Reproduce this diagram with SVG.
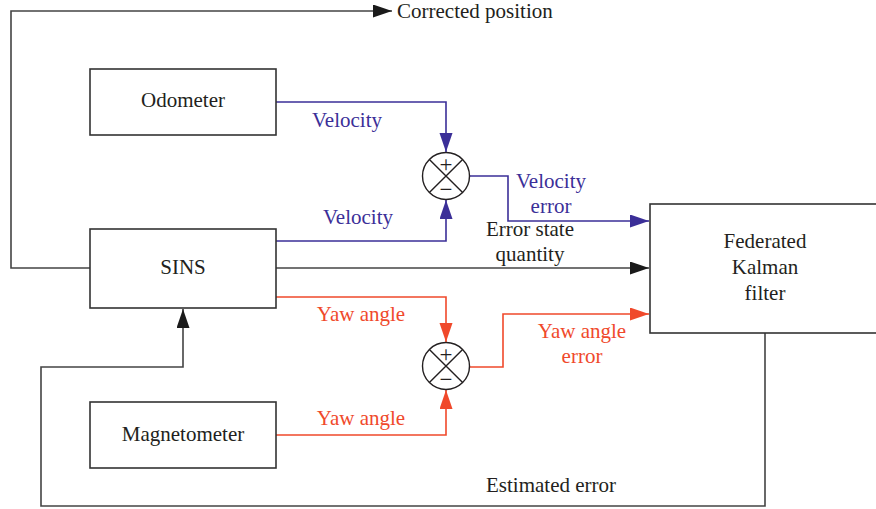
<svg xmlns="http://www.w3.org/2000/svg" width="876" height="509" viewBox="0 0 876 509">
  <defs>
    <style>
      .box { fill: #ffffff; stroke: #333333; stroke-width: 1.6; }
      .lbl { font-family: "Liberation Serif", "Times New Roman", serif; font-size: 21px; fill: #231f20; text-anchor: middle; }
      .blue { fill: #3b2f98; }
      .red { fill: #f0492b; }
      .wk { fill: none; stroke: #444444; stroke-width: 1.6; }
      .wb { fill: none; stroke: #3b2f98; stroke-width: 1.6; }
      .wr { fill: none; stroke: #f0492b; stroke-width: 1.6; }
      .sum { fill: #ffffff; stroke: #231f20; stroke-width: 1.4; }
      .sign { font-family: "Liberation Serif", "Times New Roman", serif; font-size: 23px; fill: #231f20; text-anchor: middle; }
    </style>
    <marker id="ak" markerUnits="userSpaceOnUse" markerWidth="20" markerHeight="14" refX="19" refY="6.5" orient="auto">
      <path d="M0,0 L19,6.5 L0,13 Z" fill="#1a1a1a"/>
    </marker>
    <marker id="ab" markerUnits="userSpaceOnUse" markerWidth="20" markerHeight="14" refX="19" refY="6.5" orient="auto">
      <path d="M0,0 L19,6.5 L0,13 Z" fill="#3b2f98"/>
    </marker>
    <marker id="ar" markerUnits="userSpaceOnUse" markerWidth="20" markerHeight="14" refX="19" refY="6.5" orient="auto">
      <path d="M0,0 L19,6.5 L0,13 Z" fill="#f0492b"/>
    </marker>
  </defs>
  <rect width="876" height="509" fill="#ffffff"/>

  <!-- connectors -->
  <g id="connectors">
    <!-- corrected position output -->
    <polyline class="wk" points="90,268 11,268 11,11 392,11" marker-end="url(#ak)"/>
    <!-- estimated error feedback -->
    <polyline class="wk" points="765,333 765,506 41,506 41,367 183,367 183,309" marker-end="url(#ak)"/>
    <!-- velocity paths -->
    <polyline class="wb" points="276,102 446,102 446,152" marker-end="url(#ab)"/>
    <polyline class="wb" points="276,241 446,241 446,200" marker-end="url(#ab)"/>
    <polyline class="wb" points="470,176 508,176 508,221 649,221" marker-end="url(#ab)"/>
    <!-- error state quantity -->
    <polyline class="wk" points="276,268 649,268" marker-end="url(#ak)"/>
    <!-- yaw angle paths -->
    <polyline class="wr" points="276,297 446,297 446,342" marker-end="url(#ar)"/>
    <polyline class="wr" points="276,435 446,435 446,390" marker-end="url(#ar)"/>
    <polyline class="wr" points="470,367 503,367 503,314 649,314" marker-end="url(#ar)"/>
  </g>

  <!-- connector labels -->
  <g id="labels">
    <text class="lbl" x="397" y="18" style="text-anchor:start">Corrected position</text>
    <text class="lbl blue" x="347" y="127">Velocity</text>
    <text class="lbl blue" x="358" y="224">Velocity</text>
    <text class="lbl blue" x="551" y="188">Velocity</text>
    <text class="lbl blue" x="551" y="213">error</text>
    <text class="lbl" x="530" y="236">Error state</text>
    <text class="lbl" x="530" y="261">quantity</text>
    <text class="lbl red" x="361" y="321">Yaw angle</text>
    <text class="lbl red" x="582" y="338">Yaw angle</text>
    <text class="lbl red" x="582" y="363">error</text>
    <text class="lbl red" x="361" y="425">Yaw angle</text>
    <text class="lbl" x="551" y="492">Estimated error</text>
  </g>

  <g id="odometer">
    <rect class="box" x="90" y="69" width="186" height="66"/>
    <text class="lbl" x="183" y="107">Odometer</text>
  </g>

  <g id="sins">
    <rect class="box" x="90" y="229" width="186" height="79"/>
    <text class="lbl" x="183" y="274">SINS</text>
  </g>

  <g id="magnetometer">
    <rect class="box" x="90" y="402" width="186" height="66"/>
    <text class="lbl" x="183" y="441">Magnetometer</text>
  </g>

  <g id="kalman">
    <rect class="box" x="650" y="204" width="240" height="129"/>
    <text class="lbl" x="765" y="248">Federated</text>
    <text class="lbl" x="765" y="274">Kalman</text>
    <text class="lbl" x="765" y="300">filter</text>
  </g>

  <g id="sum-velocity">
    <circle class="sum" cx="446" cy="176" r="23.5"/>
    <path class="sum" d="M429.4,159.4 L462.6,192.6 M462.6,159.4 L429.4,192.6"/>
    <text class="sign" x="446" y="172">+</text>
    <text class="sign" x="446" y="197">−</text>
  </g>

  <g id="sum-yaw">
    <circle class="sum" cx="446" cy="366" r="23.5"/>
    <path class="sum" d="M429.4,349.4 L462.6,382.6 M462.6,349.4 L429.4,382.6"/>
    <text class="sign" x="446" y="362">+</text>
    <text class="sign" x="446" y="387">−</text>
  </g>
</svg>
